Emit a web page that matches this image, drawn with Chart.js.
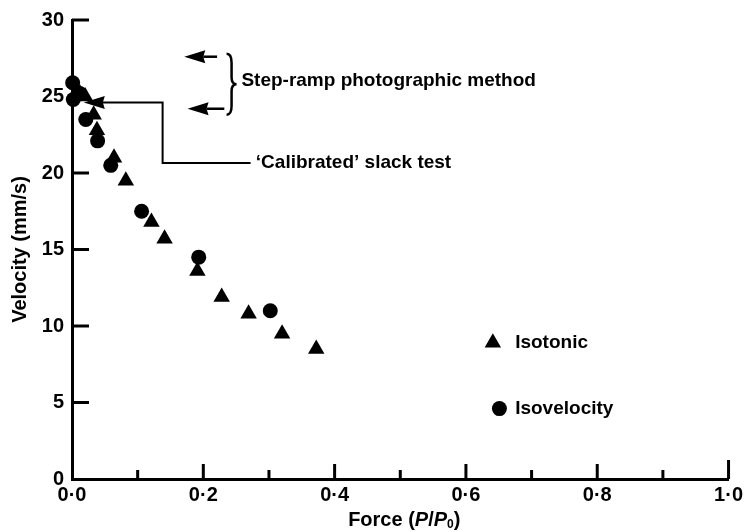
<!DOCTYPE html>
<html>
<head>
<meta charset="utf-8">
<script src="https://cdn.jsdelivr.net/npm/chart.js@4.4.0/dist/chart.umd.min.js"></script>
<style>
  html, body { margin: 0; padding: 0; background: #fff; }
</style>
</head>
<body>
<canvas id="forceChart" width="747" height="532"></canvas>
<script>
// values
const isotonicForce = [0.012, 0.020, 0.033, 0.038, 0.064, 0.082, 0.121, 0.141, 0.191, 0.228, 0.269, 0.320, 0.372];
const isotonicVelocity = [25.2, 25.0, 23.8, 22.8, 21.0, 19.5, 16.8, 15.7, 13.6, 11.9, 10.8, 9.5, 8.5];

const isovelocityForce = [0.001, 0.012, 0.002, 0.021, 0.039, 0.059, 0.106, 0.193, 0.302];
const isovelocityVelocity = [25.9, 25.2, 24.8, 23.5, 22.1, 20.5, 17.5, 14.5, 11.0];

const xMajorTicks = [0, 0.2, 0.4, 0.6, 0.8, 1.0];
const xMinorTicks = [0.1, 0.3, 0.5, 0.7, 0.9];
const yTicks = [0, 5, 10, 15, 20, 25, 30];

const FONT = "'Liberation Sans', Arial, Helvetica, sans-serif";

function toPoints(xs, ys) {
  return xs.map((v, i) => ({ x: v, y: ys[i] }));
}

function fmt(v) {
  return v.toFixed(1).replace('.', '\u00b7');
}

//extra drawing: inward ticks, notes, legend, x title
const figureExtras = {
  id: 'figureExtras',
  afterDraw(chart) {
    const { ctx, scales: { x, y } } = chart;
    const X = v => x.getPixelForValue(v);
    const Y = v => y.getPixelForValue(v);

    function line(pts, w) {
      ctx.lineWidth = w;
      ctx.beginPath();
      ctx.moveTo(pts[0][0], pts[0][1]);
      for (let i = 1; i < pts.length; i++) ctx.lineTo(pts[i][0], pts[i][1]);
      ctx.stroke();
    }
    function arrowLeft(tipX, tipY, tailX) {
      const head = 21, half = 6.5;
      line([[tipX + head - 2, tipY], [tailX, tipY]], 2.5);
      ctx.beginPath();
      ctx.moveTo(tipX, tipY);
      ctx.lineTo(tipX + head, tipY - half);
      ctx.lineTo(tipX + head - 2, tipY);
      ctx.lineTo(tipX + head, tipY + half);
      ctx.closePath();
      ctx.fill();
    }

    ctx.save();
    ctx.strokeStyle = '#000';
    ctx.fillStyle = '#000';
    ctx.lineCap = 'butt';

    // ticks pointing into the plot
    xMajorTicks.forEach(v => {
      if (v === 0) return;
      const len = v === 1 ? 19 : 15;
      line([[X(v), Y(0)], [X(v), Y(0) - len]], 3);
    });
    xMinorTicks.forEach(v => {
      line([[X(v), Y(0)], [X(v), Y(0) - 9]], 3);
    });
    yTicks.forEach(v => {
      if (v === 0) return;
      line([[X(0), Y(v)], [X(0) + 17, Y(v)]], 3);
    });

    // step-ramp arrows and brace
    arrowLeft(X(0.171), Y(27.6), X(0.221));
    arrowLeft(X(0.176), Y(24.2), X(0.232));
    const bx = X(0.240), top = Y(27.8), bot = Y(23.8), mid = Y(25.8);
    ctx.lineWidth = 2.5;
    ctx.beginPath();
    ctx.moveTo(bx - 3, top);
    ctx.quadraticCurveTo(bx + 2, top, bx + 2, top + 9);
    ctx.lineTo(bx + 2, mid - 7);
    ctx.quadraticCurveTo(bx + 2, mid, bx + 7, mid);
    ctx.quadraticCurveTo(bx + 2, mid, bx + 2, mid + 7);
    ctx.lineTo(bx + 2, bot - 9);
    ctx.quadraticCurveTo(bx + 2, bot, bx - 3, bot);
    ctx.stroke();

    ctx.font = 'bold 19px ' + FONT;
    ctx.textBaseline = 'middle';
    ctx.textAlign = 'left';
    ctx.fillText('Step-ramp photographic method', X(0.258), Y(26.0));

    // calibrated slack test
    arrowLeft(X(0.018), Y(24.6), X(0.04));
    line([[X(0.04), Y(24.6)], [X(0.138), Y(24.6)], [X(0.138), Y(20.65)], [X(0.272), Y(20.65)]], 2);
    ctx.fillText('\u2018Calibrated\u2019 slack test', X(0.280), Y(20.65));

    // legend
    Chart.helpers.drawPoint(ctx, { pointStyle: 'triangle', radius: 9.5, borderWidth: 0 }, X(0.641), Y(8.9));
    ctx.fillText('Isotonic', X(0.675), Y(8.9));
    ctx.beginPath();
    ctx.arc(X(0.651), Y(4.6), 7.5, 0, Math.PI * 2);
    ctx.fill();
    ctx.fillText('Isovelocity', X(0.675), Y(4.6));

    // x axis title with italic P and subscript 0
    const parts = [
      { t: 'Force (', f: 'bold 20px ' + FONT, dy: 0 },
      { t: 'P', f: 'italic bold 20px ' + FONT, dy: 0 },
      { t: '/', f: 'bold 20px ' + FONT, dy: 0 },
      { t: 'P', f: 'italic bold 20px ' + FONT, dy: 0 },
      { t: '0', f: 'bold 12px ' + FONT, dy: 5 },
      { t: ')', f: 'bold 20px ' + FONT, dy: 0 },
    ];
    let total = 0;
    parts.forEach(p => { ctx.font = p.f; p.w = ctx.measureText(p.t).width; total += p.w; });
    let cx = X(0.5) + 4 - total / 2;
    const ty = 520;
    parts.forEach(p => {
      ctx.font = p.f;
      ctx.fillText(p.t, cx, ty + p.dy);
      cx += p.w;
    });

    ctx.restore();
  }
};

new Chart(document.getElementById('forceChart'), {
  type: 'scatter',
  data: {
    datasets: [
      {
        label: 'Isotonic',
        data: toPoints(isotonicForce, isotonicVelocity),
        pointStyle: 'triangle',
        pointRadius: 9.5,
        pointBackgroundColor: '#000',
        pointBorderWidth: 0,
        clip: false,
      },
      {
        label: 'Isovelocity',
        data: toPoints(isovelocityForce, isovelocityVelocity),
        pointStyle: 'circle',
        pointRadius: 7.5,
        pointBackgroundColor: '#000',
        pointBorderWidth: 0,
        clip: false,
      },
    ],
  },
  options: {
    responsive: false,
    animation: false,
    layout: { padding: { top: 20, right: 15, left: 0, bottom: 0 } },
    plugins: {
      legend: { display: false },
      tooltip: { enabled: false },
    },
    scales: {
      x: {
        type: 'linear',
        min: 0,
        max: 1,
        afterFit: s => { s.height = 53; },
        ticks: {
          stepSize: 0.2,
          callback: v => fmt(v),
          color: '#000',
          font: { family: FONT, size: 20, weight: 'bold' },
          padding: 4,
          maxRotation: 0,
        },
        grid: { drawOnChartArea: false, drawTicks: false },
        border: { color: '#000', width: 3 },
      },
      y: {
        min: 0,
        max: 30,
        afterFit: s => { s.width = 72; },
        ticks: {
          stepSize: 5,
          color: '#000',
          font: { family: FONT, size: 20, weight: 'bold' },
          padding: 8,
        },
        grid: { drawOnChartArea: false, drawTicks: false },
        border: { color: '#000', width: 3 },
        title: {
          display: true,
          text: 'Velocity (mm/s)',
          color: '#000',
          font: { family: FONT, size: 20, weight: 'bold' },
          padding: { top: 8, bottom: 0 },
        },
      },
    },
  },
  plugins: [figureExtras],
});
</script>
</body>
</html>
